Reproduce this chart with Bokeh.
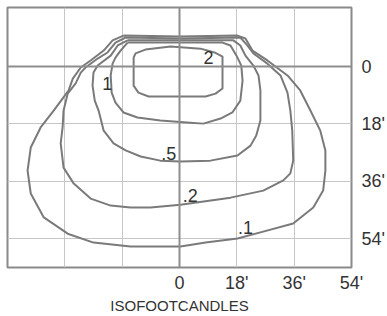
from bokeh.plotting import figure
from bokeh.models import Range1d, FixedTicker, Span, ColumnDataSource
from bokeh.core.properties import value
from bokeh.embed import file_html
from bokeh.resources import INLINE

# ---- data (feet; y grows downward, away from the luminaire) ----
level_labels = [".1", ".2", ".5", "1", "2"]

c01_x = [-17.6, 0.0, 18.2, 20.7, 22.9, 27.6, 33.9, 37.9, 41.1, 44.2, 45.8, 45.8, 45.1, 42.0, 35.7, 25.4, 18.2, 8.2, 0.3, -15.4, -27.0, -35.1, -42.6, -46.7, -47.7, -46.7, -43.6, -39.5, -34.8, -33.5, -31.0, -27.9, -23.8, -21.0, -17.6]
c01_y = [-9.7, -9.4, -9.7, -8.8, -5.0, -1.9, 2.8, 7.5, 13.8, 20.1, 26.3, 32.6, 38.9, 44.2, 49.2, 52.0, 53.9, 55.2, 56.4, 56.4, 55.2, 52.4, 47.3, 39.8, 32.6, 25.4, 19.1, 13.8, 7.5, 3.8, 0.3, -1.9, -5.0, -8.2, -9.7]

c02_x = [-16.9, 0.3, 19.1, 21.3, 23.2, 27.6, 31.7, 33.9, 34.8, 35.4, 35.7, 34.8, 32.6, 26.3, 16.0, 0.3, -9.1, -15.4, -21.6, -27.9, -33.2, -36.4, -37.3, -36.7, -36.4, -35.1, -32.6, -31.0, -29.5, -25.7, -22.6, -20.1, -16.9]
c02_y = [-9.1, -8.8, -9.1, -6.6, -4.1, -0.9, 2.8, 8.2, 13.8, 20.1, 29.5, 33.5, 35.7, 38.9, 41.1, 43.3, 44.2, 44.2, 43.6, 41.4, 36.7, 31.7, 24.1, 19.1, 13.8, 8.5, 5.3, 1.9, 0.3, -2.5, -4.4, -7.5, -9.1]

c05_x = [-16.3, 0.3, 16.9, 19.1, 20.7, 23.2, 24.8, 25.4, 25.4, 24.1, 22.3, 18.2, 9.7, 0.3, -6.0, -12.2, -16.9, -20.7, -23.8, -25.4, -26.6, -27.3, -27.0, -25.7, -21.6, -19.4, -16.3]
c05_y = [-8.2, -8.2, -8.2, -6.6, -3.4, -0.3, 2.8, 7.5, 16.9, 21.6, 24.8, 27.9, 29.5, 29.8, 29.5, 28.2, 26.3, 24.1, 20.1, 13.8, 10.7, 6.0, 1.9, -0.3, -3.4, -6.6, -8.2]

c1_x = [-16.3, 0.3, 13.5, 16.0, 17.9, 19.4, 19.8, 19.1, 16.6, 12.9, 7.5, 3.4, -6.0, -13.2, -17.6, -20.1, -21.3, -21.6, -21.0, -20.1, -18.5, -16.3]
c1_y = [-7.5, -7.5, -7.5, -6.6, -3.4, -0.3, 4.4, 10.7, 14.4, 16.3, 17.9, 17.6, 16.9, 16.0, 14.4, 11.3, 8.2, 2.8, -0.9, -2.8, -5.0, -7.5]

c2_x = [-14.4, -14.4, -12.9, -9.7, 8.2, 11.3, 13.5, 13.5, 11.0, 6.6, -2.8, -10.7, -13.8, -14.4]
c2_y = [-2.8, 6.0, 8.2, 9.4, 9.4, 8.5, 6.9, -3.1, -4.4, -5.6, -6.3, -5.3, -4.1, -2.8]

label_x = [20.7, 3.4, -3.4, -22.7, 9.1]
label_y = [50.5, 40.4, 27.3, 5.3, -2.8]

x_tick_vals = [0, 18, 36, 54]
x_tick_labels = ["0", "18'", "36'", "54'"]
y_tick_vals = [0, 18, 36, 54]
y_tick_labels = ["0", "18'", "36'", "54'"]
x_grid_vals = [-36, -18, 18, 36]
y_grid_vals = [18, 36, 54]
axis_title = "ISOFOOTCANDLES"

FONT = "Liberation Sans"

p = figure(frame_width=344, frame_height=260,
           x_range=Range1d(-54, 54), y_range=Range1d(63, -18.5),
           x_axis_location="below", y_axis_location="right",
           output_backend="svg", toolbar_location=None,
           min_border_left=7, min_border_top=7, min_border_right=0, min_border_bottom=0,
           background_fill_color="white", border_fill_color="white")

p.outline_line_color = "#8a8a8a"
p.outline_line_width = 2

for ax, vals, labs in ((p.xaxis[0], x_tick_vals, x_tick_labels), (p.yaxis[0], y_tick_vals, y_tick_labels)):
    ax.ticker = FixedTicker(ticks=vals)
    ax.major_label_overrides = {v: l for v, l in zip(vals, labs)}
    ax.axis_line_color = None
    ax.major_tick_line_color = None
    ax.minor_tick_line_color = None
    ax.major_tick_out = 0
    ax.major_tick_in = 0
    ax.major_label_text_font = FONT
    ax.major_label_text_font_size = "18px"
    ax.major_label_text_color = "#333333"

p.yaxis.major_label_standoff = 10
p.xaxis.major_label_standoff = 5
p.xaxis.axis_label = axis_title
p.xaxis.axis_label_text_font = FONT
p.xaxis.axis_label_text_font_style = "normal"
p.xaxis.axis_label_text_font_size = "15px"
p.xaxis.axis_label_text_color = "#333333"
p.xaxis.axis_label_standoff = 1

p.xgrid.ticker = FixedTicker(ticks=x_grid_vals)
p.ygrid.ticker = FixedTicker(ticks=y_grid_vals)
for g in (p.xgrid[0], p.ygrid[0]):
    g.grid_line_color = "#c6c6c6"
    g.grid_line_width = 1

p.add_layout(Span(location=0, dimension="height", line_color="#8e8e8e", line_width=2))
p.add_layout(Span(location=0, dimension="width", line_color="#8e8e8e", line_width=2))

src = ColumnDataSource(dict(xs=[c01_x, c02_x, c05_x, c1_x, c2_x],
                            ys=[c01_y, c02_y, c05_y, c1_y, c2_y]))
p.multi_line(xs="xs", ys="ys", source=src, line_color="#7a7a7a", line_width=2, line_join="round")

p.text(x=label_x, y=label_y, text=level_labels, text_font=value(FONT),
       text_font_size="18px", text_align="center", text_baseline="middle", text_color="#333333")

open("out.html", "w").write(file_html(p, INLINE))
